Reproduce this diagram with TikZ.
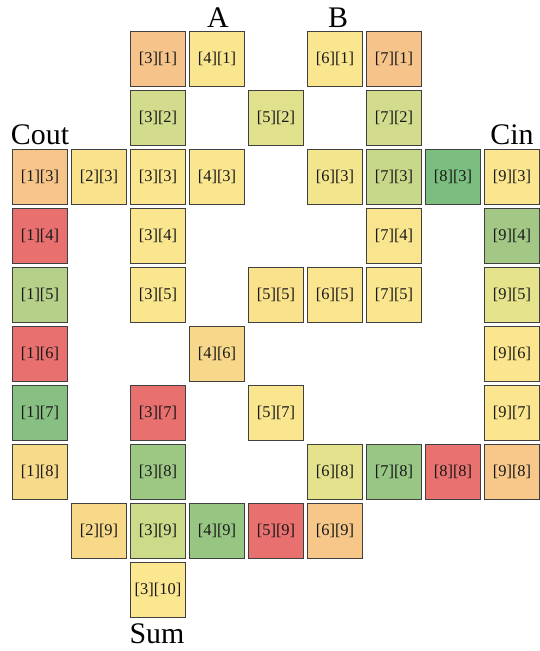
\documentclass[tikz,border=0pt]{standalone}
\usepackage{fontspec}
\setmainfont{Liberation Serif}
\newcommand\mycell[3]{%
  \definecolor{cellfill}{HTML}{#3}%
  \node[cellbox, fill=cellfill] (c#1r#2) at ({40+59*(#1-1)},{58.5+59*(#2-1)}) {[#1][#2]};}
\begin{document}
\begin{tikzpicture}[x=1bp,y=-1bp,
  cellbox/.style={draw=black!75, line width=0.9bp, minimum size=55bp, inner sep=0pt,
    font=\fontsize{16.5}{18}\selectfont, text=black!90},
  ttl/.style={font=\fontsize{30}{32}\selectfont, anchor=base, inner sep=0pt}]
\useasboundingbox (0,0) rectangle (540,651);
% titles
\node[ttl] (tA) at (218,28) {A};
\node[ttl] (tB) at (338,28) {B};
\node[ttl] (tCout) at (40,144) {Cout};
\node[ttl] (tCin) at (512,144) {Cin};
\node[ttl] (tSum) at (157,643) {Sum};
% row 1
\mycell{3}{1}{F6C48A}
\mycell{4}{1}{FAE68F}
\mycell{6}{1}{FAE68F}
\mycell{7}{1}{F6C48A}
% row 2
\mycell{3}{2}{D3DC8C}
\mycell{5}{2}{E1E08C}
\mycell{7}{2}{D2DC8C}
% row 3
\mycell{1}{3}{F7C58A}
\mycell{2}{3}{FAE28C}
\mycell{3}{3}{FAE68E}
\mycell{4}{3}{FAE68E}
\mycell{6}{3}{F2E58E}
\mycell{7}{3}{C8D88A}
\mycell{8}{3}{7BBE80}
\mycell{9}{3}{FBE58F}
% row 4
\mycell{1}{4}{E8706E}
\mycell{3}{4}{FAE68E}
\mycell{7}{4}{F8E58E}
\mycell{9}{4}{A3C886}
% row 5
\mycell{1}{5}{B5D189}
\mycell{3}{5}{FAE68E}
\mycell{5}{5}{FAE18C}
\mycell{6}{5}{FAE48E}
\mycell{7}{5}{FAE68E}
\mycell{9}{5}{E6E38D}
% row 6
\mycell{1}{6}{E8706E}
\mycell{4}{6}{F7D78A}
\mycell{9}{6}{FBE58F}
% row 7
\mycell{1}{7}{88C083}
\mycell{3}{7}{E8706E}
\mycell{5}{7}{FAE68E}
\mycell{9}{7}{FBE68F}
% row 8
\mycell{1}{8}{F8DA8B}
\mycell{3}{8}{9CC884}
\mycell{6}{8}{E4E28D}
\mycell{7}{8}{98C684}
\mycell{8}{8}{E97270}
\mycell{9}{8}{F7C88A}
% row 9
\mycell{2}{9}{F8D98A}
\mycell{3}{9}{CBDB8A}
\mycell{4}{9}{97C683}
\mycell{5}{9}{E8706E}
\mycell{6}{9}{F7C78A}
% row 10
\mycell{3}{10}{FBE78F}
\end{tikzpicture}
\end{document}
